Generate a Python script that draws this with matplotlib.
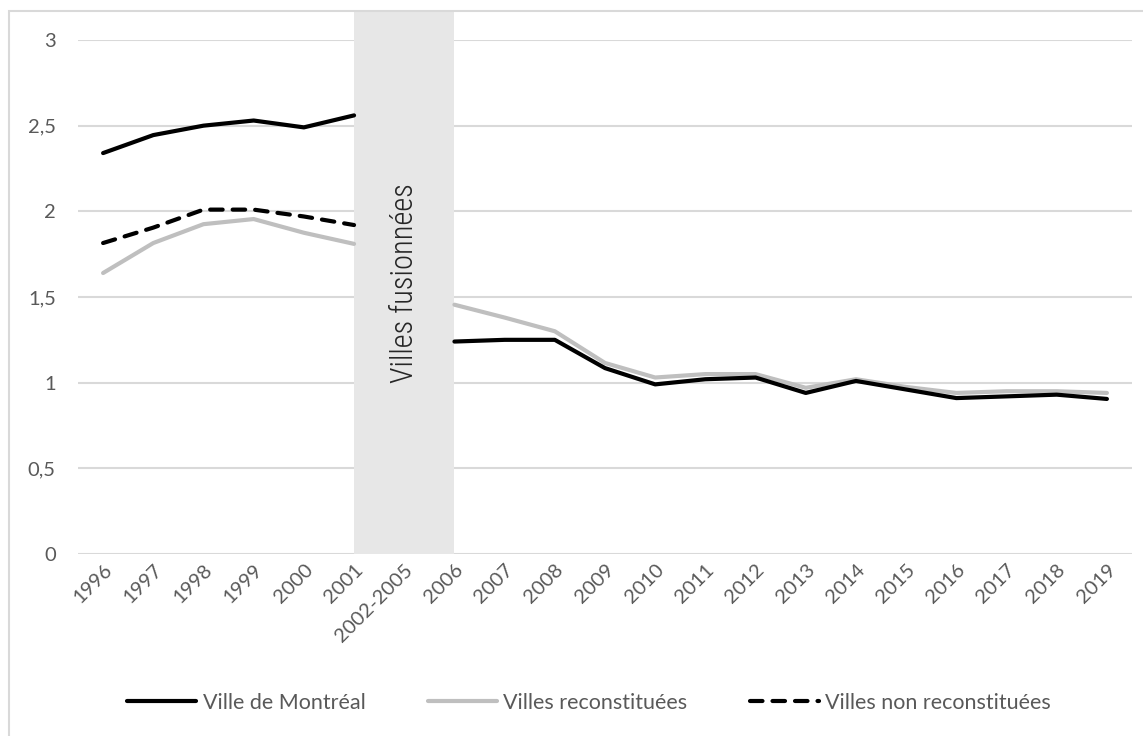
import numpy as np
import matplotlib
matplotlib.use("Agg")
import matplotlib.pyplot as plt
from matplotlib.lines import Line2D
from matplotlib.patches import Rectangle

categories = ['1996', '1997', '1998', '1999', '2000', '2001', '2002-2005',
              '2006', '2007', '2008', '2009', '2010', '2011', '2012', '2013',
              '2014', '2015', '2016', '2017', '2018', '2019']
nan = np.nan
montreal = [2.34, 2.445, 2.50, 2.53, 2.49, 2.56, nan,
            1.24, 1.25, 1.25, 1.085, 0.99, 1.02, 1.03, 0.94,
            1.01, 0.96, 0.91, 0.92, 0.93, 0.905]
reconstituees = [1.64, 1.815, 1.925, 1.955, 1.875, 1.81, nan,
                 1.455, 1.38, 1.30, 1.115, 1.03, 1.05, 1.05, 0.97,
                 1.02, 0.975, 0.94, 0.95, 0.95, 0.94]
non_reconstituees = [1.815, 1.905, 2.01, 2.01, 1.97, 1.92, nan,
                     nan, nan, nan, nan, nan, nan, nan, nan,
                     nan, nan, nan, nan, nan, nan]
series_labels = ['Ville de Montréal', 'Villes reconstituées', 'Villes non reconstituées']
band_label = 'Villes fusionnées'
band_category = '2002-2005'
yticks = [0, 0.5, 1, 1.5, 2, 2.5, 3]
ytick_labels = ['0', '0,5', '1', '1,5', '2', '2,5', '3']

W, H = 1143, 736
fig = plt.figure(figsize=(W / 100, H / 100), dpi=100)
fig.patch.set_facecolor('white')

# outer frame (right/bottom edges beyond the picture)
fig.add_artist(Rectangle((9 / W, -0.01), 1.02, 1 - 11 / H + 0.01, transform=fig.transFigure,
                         fill=False, edgecolor='#D9D9D9', linewidth=1.5))

ax = fig.add_axes([78 / W, (H - 554) / H, (1132 - 78) / W, (554 - 40) / H])
x = np.arange(len(categories))
ax.set_xlim(-0.5, len(categories) - 0.5)
ax.set_ylim(0, 3)

for s in ax.spines.values():
    s.set_visible(False)
ax.set_yticks(yticks)
ax.set_yticklabels(ytick_labels)
ax.yaxis.grid(True, color='#D9D9D9', linewidth=1.5)
ax.set_axisbelow(True)
ax.tick_params(axis='both', length=0, colors='#595959', labelsize=14.5)
ax.tick_params(axis='y', pad=16)
ax.set_xticks(x)
ax.set_xticklabels(categories, rotation=45, ha='right', rotation_mode='anchor')
ax.tick_params(axis='x', pad=5)
for lab in ax.get_xticklabels() + ax.get_yticklabels():
    lab.set_fontfamily(['Lato', 'DejaVu Sans'])

# shaded band for merged-city period
bi = categories.index(band_category)
top_y = ax.transData.inverted().transform(fig.transFigure.transform((0, 1 - 11 / H)))[1]
band = Rectangle((bi - 1, 0), 2, top_y, facecolor='#E7E7E7', edgecolor='none',
                 zorder=1.5, clip_on=False)
ax.add_patch(band)
ax.text(bi, 1.58, band_label, rotation=90, ha='center', va='center',
        fontsize=22, color='#262626', fontweight='light',
        family=['Roboto Condensed', 'DejaVu Sans'], fontstretch='condensed', zorder=3)

dash = (0, (3.0, 2.4))
ax.plot(x, reconstituees, color='#BFBFBF', linewidth=3.0, solid_capstyle='round',
        solid_joinstyle='round', zorder=3)
ax.plot(x, montreal, color='black', linewidth=3.0, solid_capstyle='round',
        solid_joinstyle='round', zorder=4)
ax.plot(x, non_reconstituees, color='black', linewidth=3.0, linestyle=dash,
        dash_capstyle='round', zorder=4)

handles = [Line2D([], [], color='black', linewidth=3.0, solid_capstyle='round'),
           Line2D([], [], color='#BFBFBF', linewidth=3.0, solid_capstyle='round'),
           Line2D([], [], color='black', linewidth=3.0, linestyle=dash, dash_capstyle='round')]
leg = fig.legend(handles, series_labels, loc='center', bbox_to_anchor=(589 / W, 1 - 703 / H),
                 ncol=3, frameon=False, handlelength=3.2, handletextpad=0.3,
                 columnspacing=2.9, prop={'family': ['Lato', 'DejaVu Sans'], 'size': 15.5})
for t in leg.get_texts():
    t.set_color('#595959')

fig.savefig('out.png', dpi=100)
